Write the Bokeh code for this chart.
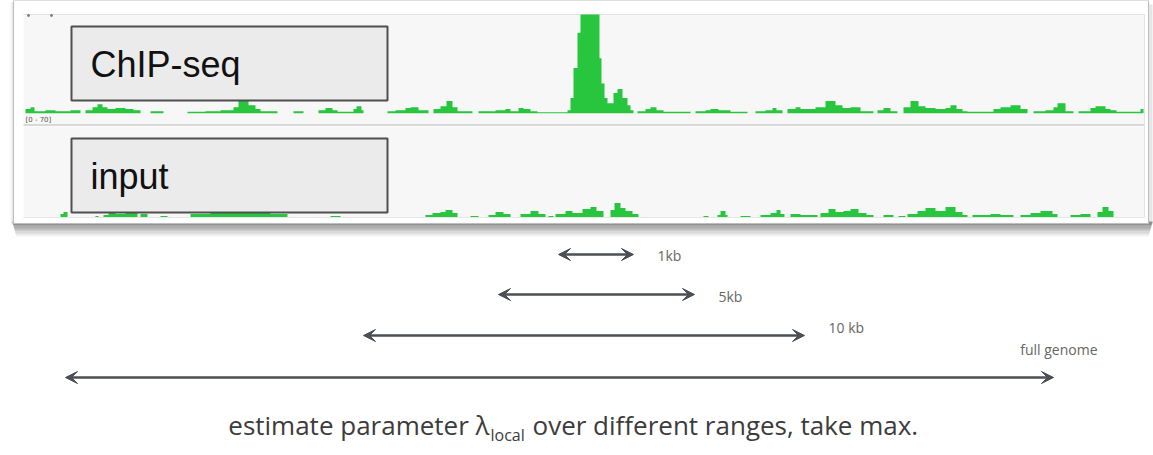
from bokeh.plotting import figure
from bokeh.models import Range1d, ColumnDataSource, Arrow, VeeHead
from bokeh.core.properties import value
from bokeh.embed import file_html
from bokeh.resources import INLINE

# ---------------- data ----------------
track_names = ["ChIP-seq", "input"]
scale_label = "[0 - 70]"
scale_max = 70

# coverage as step intervals: edges (genome position) and coverage per interval
chip_edges = [25, 30, 34, 45, 55, 70, 80, 85, 92, 97,
              102, 107, 115, 125, 133, 140, 150, 163, 187, 205,
              220, 233, 238, 248, 255, 260, 277, 293, 303, 318,
              325, 332, 337, 353, 356, 361, 363, 387, 395, 405,
              410, 418, 428, 433, 440, 446, 452, 457, 472, 478,
              495, 505, 510, 518, 523, 530, 537, 567, 570, 573,
              577, 580, 599, 601, 604, 607, 613, 617, 622, 627,
              630, 633, 637, 645, 650, 656, 663, 690, 695, 705,
              710, 718, 730, 747, 755, 765, 772, 776, 782, 787,
              795, 800, 815, 825, 835, 842, 850, 860, 873, 877,
              883, 890, 897, 903, 910, 918, 925, 935, 945, 950,
              956, 962, 967, 993, 1000, 1010, 1020, 1027, 1033, 1045,
              1053, 1057, 1065, 1073, 1078, 1090, 1095, 1105, 1110, 1116,
              1140, 1143]
chip_cov = [2.9, 4.3, 1.4, 2.1, 1.4, 2.1, 0, 2.1, 4.3, 6.4,
            4.3, 2.9, 3.6, 2.9, 2.1, 0, 1.4, 0, 1.1, 1.4,
            2.1, 4.3, 8.6, 5.7, 2.9, 1.4, 0, 1.4, 0, 2.1,
            3.6, 2.1, 1.1, 2.9, 5.0, 2.1, 0, 1.4, 2.1, 3.6,
            4.3, 2.1, 0, 2.9, 5.0, 8.6, 4.3, 1.4, 0, 1.4,
            2.1, 2.9, 1.4, 3.6, 2.9, 1.4, 0.7, 2.1, 10.7, 32,
            57, 70, 39, 21, 10.7, 7.1, 14.3, 17.1, 10.7, 5.7,
            2.1, 0, 1.4, 2.9, 4.3, 2.1, 1.1, 0, 1.4, 2.1,
            2.9, 2.1, 1.1, 0, 1.4, 2.1, 3.6, 2.1, 0, 2.9,
            4.3, 2.9, 4.3, 8.6, 5.7, 3.6, 4.3, 1.4, 0, 2.1,
            3.6, 1.4, 0, 4.3, 8.6, 5.0, 3.6, 2.9, 3.6, 5.7,
            2.9, 1.4, 1.1, 2.9, 4.3, 5.7, 2.9, 0, 1.4, 2.1,
            4.3, 7.1, 1.4, 0, 1.4, 3.6, 5.0, 2.9, 2.1, 1.1,
            2.9]

input_edges = [60, 63, 67, 95, 98, 103, 108, 115, 125, 137,
               140, 147, 160, 167, 190, 210, 230, 250, 270, 287,
               330, 340, 425, 432, 440, 445, 452, 457, 470, 478,
               488, 495, 503, 510, 520, 530, 538, 545, 548, 553,
               555, 565, 572, 582, 590, 596, 603, 610, 614, 620,
               625, 632, 638, 703, 708, 717, 720, 725, 727, 740,
               750, 760, 770, 776, 780, 784, 790, 800, 817, 820,
               828, 835, 843, 850, 858, 866, 873, 883, 893, 898,
               905, 907, 917, 925, 935, 945, 955, 962, 967, 972,
               990, 1000, 1013, 1020, 1030, 1040, 1052, 1057, 1070, 1080,
               1090, 1097, 1102, 1108, 1113]
input_cov = [2.3, 3.9, 0, 0.8, 0, 1.5, 3.1, 2.3, 3.1, 0,
             2.3, 0, 0.8, 0, 2.3, 3.1, 3.9, 3.1, 2.3, 0,
             0.8, 0, 1.5, 3.1, 3.9, 5.4, 3.1, 0, 0.8, 0,
             1.5, 3.9, 2.3, 0, 2.3, 4.6, 2.3, 0, 0.8, 0,
             2.3, 4.6, 3.1, 6.2, 7.8, 4.6, 0, 5.4, 10.9, 7.0,
             4.6, 2.3, 0, 0.8, 0, 1.5, 4.6, 1.5, 0, 0.8,
             0, 1.5, 3.1, 5.4, 2.3, 0, 2.3, 1.5, 0, 3.1,
             6.2, 3.9, 4.6, 6.2, 3.1, 1.5, 0, 1.5, 0, 0.8,
             0, 2.3, 4.6, 7.0, 4.6, 7.8, 3.9, 1.5, 0, 1.5,
             2.3, 1.5, 0, 1.5, 3.1, 4.6, 2.3, 0, 1.5, 2.3,
             0, 3.9, 7.8, 4.6]

window_labels = ["1kb", "5kb", "10 kb", "full genome"]
window_start = [558, 498, 363, 65]
window_end = [633, 694, 804, 1053]

caption_main = "estimate parameter λ"
caption_sub = "local"
caption_tail = "over different ranges, take max."

# ---------------- layout ----------------
W, H = 1153, 455
X0, Y0 = 0, 0
GREEN = "#27c63e"
ARROW = "#4a4e55"
FONT = "Open Sans"


def track_range(base_y, top_y, vmax):
    scale = (base_y - top_y) / vmax
    end = (base_y - Y0) / scale
    return Range1d(start=end - H / scale, end=end)


def steps(edges, vals):
    xs, ys = [], []
    for i, v in enumerate(vals):
        xs += [edges[i], edges[i + 1]]
        ys += [v, v]
    return xs, ys


p = figure(width=W, height=H, x_range=Range1d(X0, X0 + W), y_range=Range1d(Y0 + H, Y0),
           output_backend="svg", toolbar_location=None, min_border=0,
           x_axis_location=None, y_axis_location=None)
p.grid.visible = False
p.outline_line_color = None
p.background_fill_color = "white"
p.border_fill_color = "white"

p.extra_y_ranges = {"chip": track_range(112.7, 14, scale_max),
                    "input": track_range(216.5, 126, scale_max)}

# panel shadow
for i in range(14):
    p.quad(left=12 + i * 0.3, right=1152 - i * 0.3, top=221 + i * 1.1, bottom=222.3 + i * 1.1,
           fill_color="#555555", fill_alpha=0.7 * (1 - i / 14) ** 1.2, line_color=None)
for i in range(4):
    p.quad(left=10 + i, right=11 + i, top=2, bottom=224, fill_color="#8a8a8a",
           fill_alpha=0.08 + 0.08 * i, line_color=None)
p.quad(left=1148, right=1152, top=4, bottom=224, fill_color="#9a9a9a", fill_alpha=0.25, line_color=None)
# panel
p.quad(left=13, right=1148, top=0, bottom=223, fill_color="white", line_color="#bdbdbd", line_width=1)
# track areas
p.quad(left=23, right=1144, top=14, bottom=124, fill_color="#f7f7f7", line_color=None)
p.quad(left=23, right=1144, top=126, bottom=217, fill_color="#f7f7f7", line_color=None)
p.segment(x0=[23, 23, 23], y0=[14, 124.5, 217], x1=[1144, 1144, 1144], y1=[14, 124.5, 217],
          line_color=["#e2e2e2", "#b4b4b4", "#e6e6e6"], line_width=1)
p.segment(x0=[1144], y0=[14], x1=[1144], y1=[217], line_color="#e4e4e4", line_width=1)

# coverage tracks
cx, cy = steps(chip_edges, chip_cov)
p.varea(x=cx, y1=0, y2=cy, fill_color=GREEN, y_range_name="chip")
ix, iy = steps(input_edges, input_cov)
p.varea(x=ix, y1=0, y2=iy, fill_color=GREEN, y_range_name="input")

p.text(x=[25], y=[119], text=[scale_label], text_font=value("DejaVu Sans"), text_font_size="7px",
       text_color="#555555", text_baseline="middle")
p.scatter(x=[28, 51], y=[15, 15], size=2, color="#777777")

# name boxes
p.quad(left=[71, 71], right=[387, 387], top=[26, 138], bottom=[100, 212],
       fill_color="#ebebeb", line_color="#4f4f4f", line_width=2)
p.text(x=[90, 90], y=[63.5, 175.5], text=track_names, text_font=value("Liberation Sans"),
       text_font_size="36px", text_color="#111111", text_baseline="middle")

# window arrows
row_y = [254, 294, 335, 377]
src = ColumnDataSource(dict(x0=window_start, x1=window_end, y=row_y))
head = dict(size=12, fill_color=ARROW, line_color=ARROW, line_width=1)
p.add_layout(Arrow(start=VeeHead(**head), end=VeeHead(**head), x_start="x0", y_start="y",
                   x_end="x1", y_end="y", source=src, line_color=ARROW, line_width=2.5))

lab_x = [e + 24 for e in window_end[:3]] + [1097]
lab_y = [255, 296, 327, 349]
p.text(x=lab_x[:3], y=lab_y[:3], text=window_labels[:3], text_font=value(FONT), text_font_size="14px",
       text_color="#666666", text_baseline="middle", text_align="left")
p.text(x=lab_x[3:], y=lab_y[3:], text=window_labels[3:], text_font=value(FONT), text_font_size="14px",
       text_color="#666666", text_baseline="middle", text_align="right")

# caption
sub_x = 490
p.text(x=[sub_x - 1], y=[424], text=[caption_main], text_font=value(FONT), text_font_size="26px",
       text_color="#3c3c3c", text_align="right", text_baseline="middle")
p.text(x=[sub_x], y=[434], text=[caption_sub], text_font=value(FONT), text_font_size="16px",
       text_color="#3c3c3c", text_align="left", text_baseline="middle")
p.text(x=[sub_x + 42], y=[424], text=[caption_tail], text_font=value(FONT), text_font_size="26px",
       text_color="#3c3c3c", text_align="left", text_baseline="middle")

open("out.html", "w").write(file_html(p, INLINE))
